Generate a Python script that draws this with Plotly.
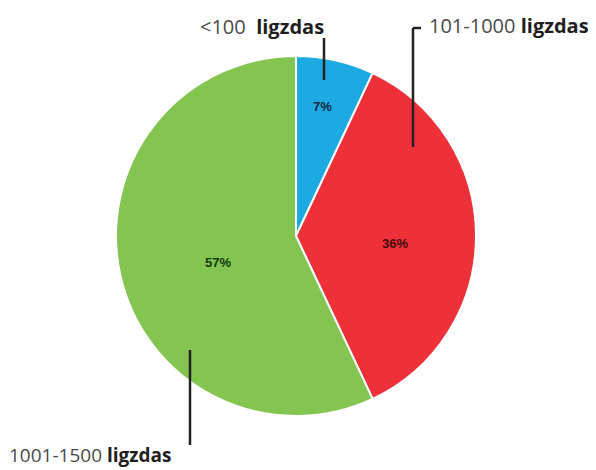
import plotly.graph_objects as go

categories = ["<100", "101-1000", "1001-1500"]
values = [7, 36, 57]
colors = ["#1DA9E1", "#EE3038", "#84C552"]
unit = "ligzdas"

# page body has an 8px margin; work in window pixel coordinates
OFF = 8
W, H = 596 - OFF, 470 - OFF
cx, cy, r = 296, 236, 180

def px(x):
    return (x - OFF) / W

def py(y):
    return 1 - (y - OFF) / H

fig = go.Figure(go.Pie(
    labels=categories,
    values=values,
    sort=False,
    direction="clockwise",
    rotation=0,
    marker=dict(colors=colors, line=dict(color="white", width=2)),
    textinfo="none",
    hoverinfo="label+percent",
    showlegend=False,
    domain=dict(x=[px(cx - r), px(cx + r)], y=[py(cy + r), py(cy - r)]),
))

# percentage labels placed inside slices
pct_pos = [(322, 106), (395, 243), (218, 262)]
pct_col = ["#0b2a44", "#4a0a0c", "#123a0c"]
for v, (x, y), c in zip(values, pct_pos, pct_col):
    fig.add_annotation(x=px(x), y=py(y), xref="paper", yref="paper",
                       xanchor="center", yanchor="middle",
                       text=f"<b>{v}%</b>", showarrow=False,
                       font=dict(size=13, color=c, family="Liberation Sans"))

# outside category labels: (x, y, yanchor, size)
lab_pos = [(198, 27, "middle", 20), (427, 25, "middle", 20), (7, 470, "bottom", 19)]
seps = ["  ", " ", " "]
for cat, (x, y, ya, sz), s in zip(categories, lab_pos, seps):
    fig.add_annotation(x=px(x), y=py(y), xref="paper", yref="paper",
                       xanchor="left", yanchor=ya,
                       text=f"<span style='color:#4a4a4a'>{cat}</span>{s}<b>{unit}</b>",
                       showarrow=False,
                       font=dict(size=sz, color="#1e1e1e", family="Open Sans"))

# leader lines
lines = [
    (324, 38, 324, 80),
    (413, 28, 413, 147),
    (413, 28, 421, 28),
    (190, 350, 190, 445),
]
for x0, y0, x1, y1 in lines:
    fig.add_shape(type="line", xref="paper", yref="paper",
                  x0=px(x0), y0=py(y0), x1=px(x1), y1=py(y1),
                  line=dict(color="#222", width=2.5))

fig.update_layout(width=W, height=H, margin=dict(l=0, r=0, t=0, b=0),
                  paper_bgcolor="white", plot_bgcolor="white")
fig.write_html("out.html")
